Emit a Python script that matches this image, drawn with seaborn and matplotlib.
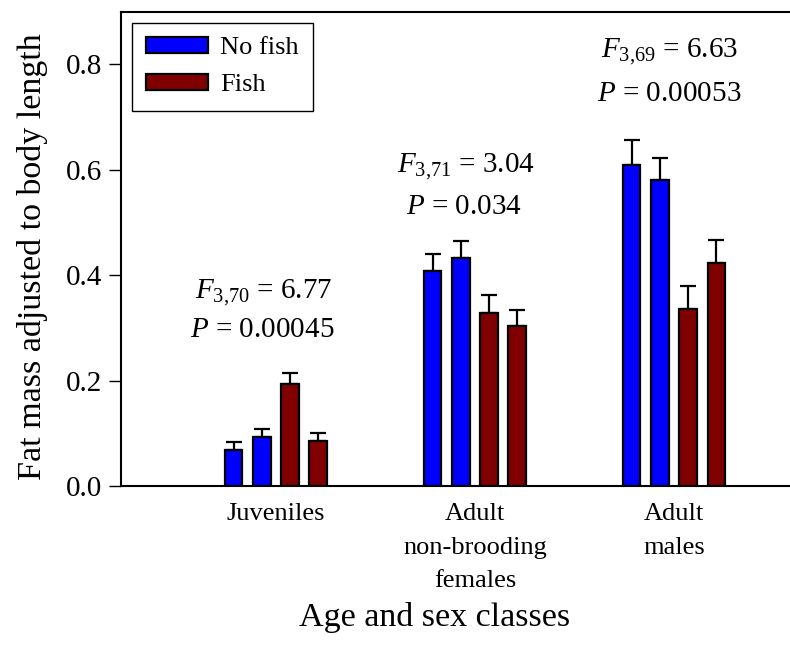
import matplotlib
matplotlib.use("Agg")
import matplotlib.pyplot as plt
from matplotlib.patches import Patch
import numpy as np
import pandas as pd
import seaborn as sns

# Age/sex classes on the x axis
classes = ["Juveniles", "Adult\nnon-brooding\nfemales", "Adult\nmales"]
# Four populations: two fishless, two with fish
populations = ["No fish 1", "No fish 2", "Fish 1", "Fish 2"]
treatment = ["No fish", "No fish", "Fish", "Fish"]

# Mean fat mass adjusted to body length, per population and class
mean_nofish1 = [0.068, 0.408, 0.609]
mean_nofish2 = [0.093, 0.432, 0.580]
mean_fish1 = [0.193, 0.328, 0.335]
mean_fish2 = [0.085, 0.304, 0.423]

# Standard errors
se_nofish1 = [0.015, 0.033, 0.048]
se_nofish2 = [0.016, 0.032, 0.042]
se_fish1 = [0.022, 0.034, 0.044]
se_fish2 = [0.015, 0.030, 0.044]

# ANOVA results per class
f_labels = [r"$F_{3{,}70}$ = 6.77", r"$F_{3{,}71}$ = 3.04", r"$F_{3{,}69}$ = 6.63"]
p_labels = [r"$P$ = 0.00045", r"$P$ = 0.034", r"$P$ = 0.00053"]

means = [mean_nofish1, mean_nofish2, mean_fish1, mean_fish2]
ses = [se_nofish1, se_nofish2, se_fish1, se_fish2]
rows = []
for pop, m_list, s_list in zip(populations, means, ses):
    for cls, m, s in zip(classes, m_list, s_list):
        rows.append({"Class": cls, "Population": pop, "Fat": m, "SE": s})
df = pd.DataFrame(rows)

BLUE = "#0000FF"
MAROON = "#800000"
treat_colors = {"No fish": BLUE, "Fish": MAROON}
palette = {p: treat_colors[t] for p, t in zip(populations, treatment)}

sns.set_style("white")
plt.rcParams["font.family"] = ["Liberation Serif", "DejaVu Serif"]
plt.rcParams["mathtext.fontset"] = "custom"
plt.rcParams["mathtext.rm"] = "Liberation Serif"
plt.rcParams["mathtext.it"] = "Liberation Serif:italic"
plt.rcParams["mathtext.bf"] = "Liberation Serif:bold"
plt.rcParams["text.color"] = "black"
plt.rcParams["axes.labelcolor"] = "black"
plt.rcParams["xtick.color"] = "black"
plt.rcParams["ytick.color"] = "black"

fig = plt.figure(figsize=(7.9, 6.46), dpi=100)
ax = fig.add_axes([0.1528, 0.2477, 0.8472, 0.7342])

sns.barplot(
    data=df, x="Class", y="Fat", hue="Population",
    order=classes, hue_order=populations, palette=palette,
    width=0.568, gap=0.373, errorbar=None,
    edgecolor="black", linewidth=1.6, saturation=1.0,
    legend=False, ax=ax,
)

# Upper standard-error bars placed on each drawn bar
bars = [p for p in ax.patches if p.get_height() > 0]
for b in bars:
    b.set_zorder(3)
for ci, cls in enumerate(classes):
    grp = sorted(
        [b for b in bars if round(b.get_x() + b.get_width() / 2) == ci],
        key=lambda b: b.get_x(),
    )
    for b, pop in zip(grp, populations):
        row = df[(df["Class"] == cls) & (df["Population"] == pop)].iloc[0]
        xc = b.get_x() + b.get_width() / 2
        ax.errorbar(
            xc, row["Fat"], yerr=[[0], [row["SE"]]], fmt="none",
            ecolor="black", elinewidth=1.6, capsize=5.6, capthick=1.6,
            zorder=2,
        )

# ANOVA annotations above each class
f_pos = [(-0.06, 0.356), (0.955, 0.595), (1.98, 0.8125)]
p_pos = [(-0.07, 0.282), (0.945, 0.517), (1.975, 0.731)]
for txt, (x, y) in zip(f_labels, f_pos):
    ax.text(x, y, txt, ha="center", va="baseline", fontsize=21)
for txt, (x, y) in zip(p_labels, p_pos):
    ax.text(x, y, txt, ha="center", va="baseline", fontsize=21)

ax.set_xlim(-0.78, 2.583)
ax.set_ylim(0, 0.9)
ax.set_yticks([0.0, 0.2, 0.4, 0.6, 0.8])
ax.set_yticklabels(["0.0", "0.2", "0.4", "0.6", "0.8"])
ax.set_xticks(range(len(classes)))
ax.set_xticklabels(classes)
ax.tick_params(axis="y", which="major", direction="out", length=9, width=1.0,
               pad=4.5, labelsize=21, left=True, colors="black")
ax.tick_params(axis="x", which="major", length=0, pad=12, labelsize=19,
               colors="black")

for side in ["left", "top", "bottom"]:
    ax.spines[side].set_visible(True)
    ax.spines[side].set_color("black")
    ax.spines[side].set_linewidth(1.5)
ax.spines["right"].set_visible(False)

ax.set_ylabel("Fat mass adjusted to body length", fontsize=24.5, color="black")
ax.set_xlabel("Age and sex classes", fontsize=24.5, color="black")
ax.yaxis.set_label_coords(-0.1086, 0.483)
ax.xaxis.set_label_coords(0.4696, -0.2446)

handles = [Patch(facecolor=c, edgecolor="black", linewidth=1.6)
           for c in treat_colors.values()]
leg = ax.legend(
    handles, list(treat_colors.keys()), loc="upper left",
    bbox_to_anchor=(0.0164, 0.977), fontsize=19, frameon=True,
    fancybox=False, shadow=False, framealpha=1, edgecolor="black",
    handlelength=2.35, handleheight=0.55, handletextpad=0.45,
    borderpad=0.55, labelspacing=0.55, borderaxespad=0,
)
leg.get_frame().set_linewidth(1.0)

# Wider line spacing for the multi-line class names
fig.canvas.draw()
for lab in ax.xaxis.get_majorticklabels():
    lab.set_linespacing(1.7)

fig.savefig("out.png", dpi=100)
